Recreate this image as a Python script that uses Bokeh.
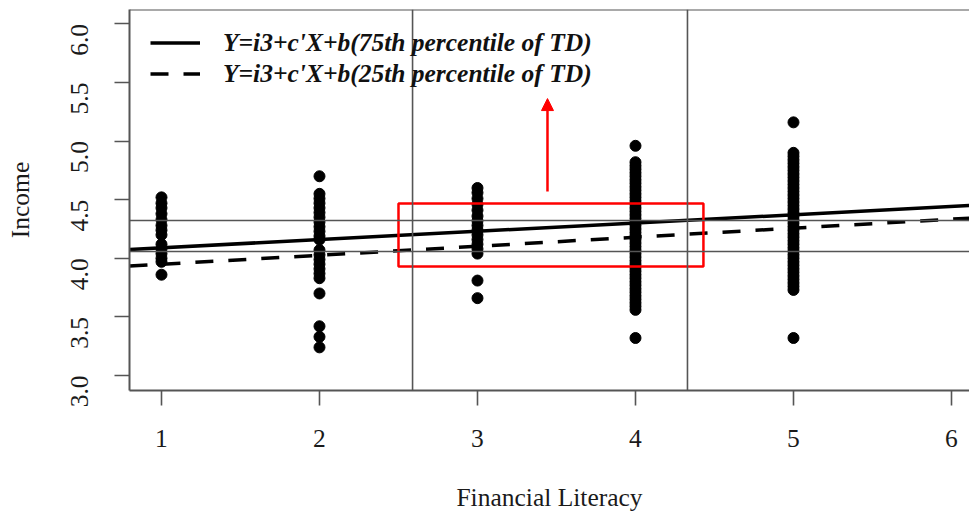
from bokeh.plotting import figure
from bokeh.models import Range1d, Span, Arrow, NormalHead, FixedTicker, PrintfTickFormatter, Legend, LegendItem
from bokeh.embed import file_html
from bokeh.resources import INLINE
import math

# ---- data ----
lit1 = [4.52, 4.47, 4.43, 4.38, 4.33, 4.28, 4.24, 4.20, 4.12, 4.08, 4.04, 4.00, 3.97, 3.86]
lit2 = [4.70, 4.55, 4.51, 4.47, 4.43, 4.39, 4.35, 4.31, 4.27, 4.23, 4.19, 4.16, 4.07, 4.03,
        3.99, 3.95, 3.91, 3.87, 3.83, 3.70, 3.42, 3.33, 3.24]
lit3 = [4.60, 4.56, 4.51, 4.46, 4.41, 4.36, 4.32, 4.28, 4.24, 4.20, 4.16, 4.12, 4.08, 4.04, 3.81, 3.66]
lit4 = [4.96, 4.82, 4.79, 4.76, 4.73, 4.70, 4.67, 4.64, 4.61, 4.58, 4.55, 4.52, 4.49, 4.46, 4.43,
        4.40, 4.37, 4.34, 4.31, 4.28, 4.25, 4.22, 4.19, 4.16, 4.13, 4.10, 4.07, 4.04, 4.01, 3.98,
        3.95, 3.92, 3.89, 3.86, 3.83, 3.80, 3.77, 3.74, 3.71, 3.68, 3.65, 3.62, 3.59, 3.56, 3.32]
lit5 = [5.16, 4.90, 4.87, 4.84, 4.81, 4.78, 4.75, 4.72, 4.69, 4.66, 4.63, 4.60, 4.57, 4.54, 4.51,
        4.48, 4.45, 4.42, 4.39, 4.36, 4.33, 4.30, 4.27, 4.24, 4.21, 4.18, 4.15, 4.12, 4.09, 4.06,
        4.03, 4.00, 3.97, 3.94, 3.91, 3.88, 3.85, 3.82, 3.79, 3.76, 3.73, 3.32]
literacy_levels = [1, 2, 3, 4, 5]
income_by_level = [lit1, lit2, lit3, lit4, lit5]

# regression lines: intercept, slope
line75 = (4.019, 0.0705)
line25 = (3.872, 0.0770)
label75 = "Y=i3+c'X+b(75th percentile of TD)"
label25 = "Y=i3+c'X+b(25th percentile of TD)"

# reference lines
vlines = [2.589, 4.329]
hlines = [4.322, 4.058]

# highlight box and arrow
box_x = (2.50, 4.43)
box_y = (3.93, 4.468)
arrow_x = 3.443
arrow_y = (4.57, 5.363)

x_ticks = [1, 2, 3, 4, 5, 6]
y_ticks = [3.0, 3.5, 4.0, 4.5, 5.0, 5.5, 6.0]

XMIN, XMAX = 0.7975, 6.114
YMIN, YMAX = 2.872, 6.123

FONT = "Liberation Serif"
GRAY = "#555555"

p = figure(width=969, height=515, output_backend="svg", toolbar_location=None,
           x_range=Range1d(XMIN, XMAX), y_range=Range1d(YMIN, YMAX),
           min_border_left=129, min_border_right=0, min_border_top=9, min_border_bottom=125)
p.grid.visible = False
p.outline_line_color = None
p.background_fill_color = "white"

# points
xs, ys = [], []
for lvl, vals in zip(literacy_levels, income_by_level):
    xs += [lvl] * len(vals)
    ys += vals
p.scatter(xs, ys, size=11, color="black", marker="circle")

# reference lines
for v in vlines:
    p.add_layout(Span(location=v, dimension="height", line_color=GRAY, line_width=1.6))
for h in hlines:
    p.add_layout(Span(location=h, dimension="width", line_color=GRAY, line_width=1.6))
# top border
p.add_layout(Span(location=YMAX, dimension="width", line_color=GRAY, line_width=2))

# regression lines
lx = [XMIN, XMAX]
r75 = p.line(lx, [line75[0] + line75[1] * x for x in lx], line_color="black", line_width=3.5)
r25 = p.line(lx, [line25[0] + line25[1] * x for x in lx], line_color="black", line_width=3.5,
             line_dash="18 15")

# red box
p.quad(left=[box_x[0]], right=[box_x[1]], bottom=[box_y[0]], top=[box_y[1]],
       fill_color=None, line_color="red", line_width=2.5)
# red arrow
p.add_layout(Arrow(end=NormalHead(size=12, fill_color="red", line_color="red", line_width=1),
                   x_start=arrow_x, y_start=arrow_y[0], x_end=arrow_x, y_end=arrow_y[1],
                   line_color="red", line_width=2.5))

legend = Legend(items=[LegendItem(label=label75, renderers=[r75]),
                       LegendItem(label=label25, renderers=[r25])],
                location=(21, 301), border_line_color=None, background_fill_alpha=0,
                padding=0, margin=0, spacing=0, glyph_width=50, glyph_height=31,
                label_height=31, label_standoff=23,
                label_text_font=FONT, label_text_font_size="25.5px",
                label_text_font_style="bold italic", label_text_color="#111111")
p.add_layout(legend)

# axes
for ax in (p.xaxis[0], p.yaxis[0]):
    ax.axis_line_color = GRAY
    ax.axis_line_width = 2
    ax.major_tick_line_color = GRAY
    ax.major_tick_line_width = 1.6
    ax.major_tick_out = 15
    ax.major_tick_in = 0
    ax.minor_tick_line_color = None
    ax.major_label_text_font = FONT
    ax.major_label_text_font_size = "25.5px"
    ax.major_label_text_color = "#1a1a1a"
    ax.axis_label_text_font = FONT
    ax.axis_label_text_font_size = "25.5px"
    ax.axis_label_text_font_style = "normal"
    ax.axis_label_text_color = "#1a1a1a"

p.xaxis.ticker = FixedTicker(ticks=x_ticks)
p.yaxis.ticker = FixedTicker(ticks=y_ticks)
p.yaxis.formatter = PrintfTickFormatter(format="%.1f")
p.yaxis.major_label_orientation = math.pi / 2
p.xaxis.axis_label = "Financial Literacy"
p.yaxis.axis_label = "Income"
p.xaxis.major_label_standoff = 24
p.xaxis.axis_label_standoff = 33
p.yaxis.major_label_standoff = 35
p.yaxis.axis_label_standoff = 25

open("out.html", "w").write(file_html(p, INLINE))
